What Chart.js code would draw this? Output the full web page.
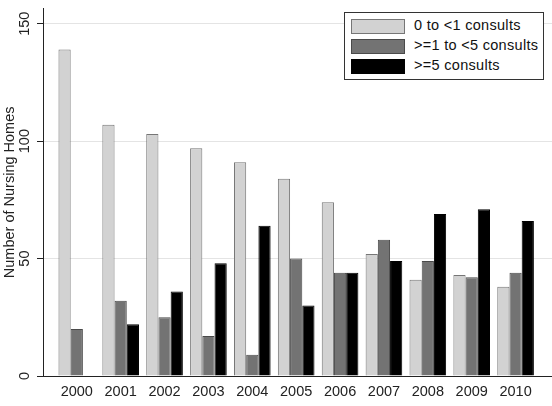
<!DOCTYPE html>
<html>
<head>
<meta charset="utf-8">
<script src="https://cdn.jsdelivr.net/npm/chart.js@4/dist/chart.umd.min.js"></script>
<style>
  body { margin: 0; background: #fff; font-family: "Liberation Sans", Arial, sans-serif; }
  #wrap { position: relative; width: 552px; height: 406px; }
  #legend {
    position: absolute; left: 344px; top: 12px; width: 198px; height: 66px;
    border: 1px solid #333; background: #fff; box-sizing: content-box;
  }
  #legend .item { position: absolute; left: 6px; height: 15px; font-size: 14.5px; color: #111; }
  #legend .box { position: absolute; left: 0; top: 0; width: 52px; height: 13px; border: 1px solid #555; }
  #legend .txt { position: absolute; left: 63px; top: -2px; white-space: nowrap; letter-spacing: 0.3px; }
</style>
</head>
<body>
<div id="wrap">
  <canvas id="chart"></canvas>
  <div id="legend"></div>
</div>
<script>
const years = [2000, 2001, 2002, 2003, 2004, 2005, 2006, 2007, 2008, 2009, 2010];
const lessThanOne = [139, 107, 103, 97, 91, 84, 74, 52, 41, 43, 38];
const oneToFive = [20, 32, 25, 17, 9, 50, 44, 58, 49, 42, 44];
const fivePlus = [0, 22, 36, 48, 64, 30, 44, 49, 69, 71, 66];
const yTicks = [0, 50, 100, 150];

const series = [
    { label: '0 to <1 consults', values: lessThanOne, fill: '#d2d2d2', border: '#767676' },
    { label: '>=1 to <5 consults', values: oneToFive, fill: '#737373', border: '#4a4a4a' },
    { label: '>=5 consults', values: fivePlus, fill: '#000000', border: '#000000' }
];

const datasets = series.map(s => ({
    label: s.label,
    data: years.map((yr, i) => ({ x: yr, y: s.values[i] })),
    backgroundColor: s.fill,
    borderColor: s.border,
    borderWidth: 1,
    borderSkipped: 'start',
    barPercentage: 1,
    categoryPercentage: 0.835
}));

const font = { family: '"Liberation Sans", Arial, sans-serif', size: 14.5 };

new Chart(document.getElementById('chart'), {
    type: 'bar',
    data: { datasets: datasets },
    options: {
        responsive: true,
        maintainAspectRatio: false,
        animation: false,
        layout: { padding: { top: 7, left: 0, right: 0, bottom: 0 } },
        plugins: { legend: { display: false }, tooltip: { enabled: false } },
        scales: {
            x: {
                type: 'linear',
                offset: false,
                min: 1999.23,
                max: 2010.83,
                grid: { display: false, offset: false, drawTicks: false },
                border: { display: true, color: '#222', width: 1 },
                ticks: {
                    color: '#222',
                    font: font,
                    padding: 7,
                    maxRotation: 0,
                    callback: v => String(v)
                },
                afterBuildTicks: scale => { scale.ticks = years.map(yr => ({ value: yr })); },
                afterFit: scale => { scale.height = 30; }
            },
            y: {
                min: 0,
                max: 156.4,
                grid: { color: '#e4e4e4', tickColor: '#222', tickLength: 6, drawTicks: true },
                border: { display: true, color: '#222', width: 1 },
                ticks: {
                    color: '#222',
                    font: font,
                    minRotation: 90,
                    maxRotation: 90,
                    crossAlign: 'center',
                    padding: 0
                },
                afterBuildTicks: scale => { scale.ticks = yTicks.map(v => ({ value: v })); },
                title: {
                    display: true,
                    text: 'Number of Nursing Homes',
                    color: '#222',
                    font: font,
                    padding: { top: 1, bottom: 0 }
                },
                afterFit: scale => { scale.width = 43; }
            }
        }
    }
});

// legend box drawn in html, inside the plot area at top right
const legend = document.getElementById('legend');
series.forEach((s, i) => {
    const item = document.createElement('div');
    item.className = 'item';
    item.style.top = (6 + i * 20) + 'px';
    item.innerHTML = `<span class="box" style="background:${s.fill};border-color:${s.border}"></span><span class="txt"></span>`;
    item.querySelector('.txt').textContent = s.label;
    legend.appendChild(item);
});
</script>
</body>
</html>
